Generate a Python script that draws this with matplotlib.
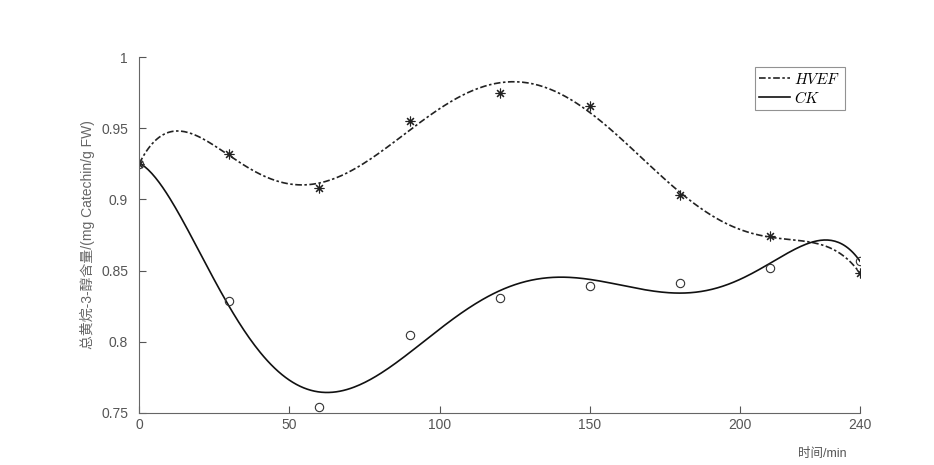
import numpy as np
import matplotlib
matplotlib.use('Agg')
import matplotlib.pyplot as plt

plt.rcParams['font.family'] = ['Liberation Sans', 'Noto Sans CJK SC', 'DejaVu Sans']
plt.rcParams['mathtext.fontset'] = 'cm'

# sampling times (min) and measured values
t = [0, 30, 60, 90, 120, 150, 180, 210, 240]
hvef = [0.925, 0.932, 0.908, 0.955, 0.975, 0.966, 0.903, 0.874, 0.848]
ck = [0.925, 0.829, 0.754, 0.805, 0.831, 0.839, 0.841, 0.852, 0.857]
fit_deg = 6

xx = np.linspace(0, 240, 400)
hvef_fit = np.polyval(np.polyfit(t, hvef, fit_deg), xx)
ck_fit = np.polyval(np.polyfit(t, ck, fit_deg), xx)

fig = plt.figure(figsize=(9.34, 4.65), dpi=100)
ax = fig.add_axes([0.149, 0.112, 0.772, 0.765])

l1, = ax.plot(xx, hvef_fit, color='#222222', linestyle=(0, (4, 1.5, 1.5, 1.5)), linewidth=1.2)
l2, = ax.plot(xx, ck_fit, color='#111111', linestyle='-', linewidth=1.2)
# MATLAB-style asterisk marker
ax.plot(t, hvef, linestyle='none', marker=(8, 2, 0), markersize=7, color='#222222',
        markeredgewidth=0.8)
ax.plot(t, ck, linestyle='none', marker='o', markersize=6, color='#333333',
        markerfacecolor='none', markeredgewidth=0.8)

ax.set_xlim(0, 240)
ax.set_ylim(0.75, 1.0)
ax.set_xticks([0, 50, 100, 150, 200, 240])
ax.set_yticks([0.75, 0.8, 0.85, 0.9, 0.95, 1.0])
ax.set_yticklabels(['0.75', '0.8', '0.85', '0.9', '0.95', '1'])
ax.tick_params(direction='in', length=5, color='#555555', labelcolor='#555555', labelsize=10)
ax.tick_params(axis='y', pad=8)
for s in ['top', 'right']:
    ax.spines[s].set_visible(False)
for s in ['left', 'bottom']:
    ax.spines[s].set_color('#666666')

ax.set_ylabel('总黄烷-3-醇含量/(mg Catechin/g FW)', color='#666666', fontsize=10)
ax.set_xlabel('时间/min', color='#555555', fontsize=9)
ax.xaxis.set_label_coords(0.948, -0.1)

leg = ax.legend([l1, l2], ['$HVEF$', '$CK$'], loc='upper right',
                bbox_to_anchor=(0.979, 0.972), borderaxespad=0, fontsize=11,
                frameon=True, fancybox=False, handlelength=2.0, handletextpad=0.3,
                borderpad=0.3, labelspacing=0.2)
leg.get_frame().set_edgecolor('#777777')
leg.get_frame().set_linewidth(0.8)

fig.savefig('out.png', dpi=100)
